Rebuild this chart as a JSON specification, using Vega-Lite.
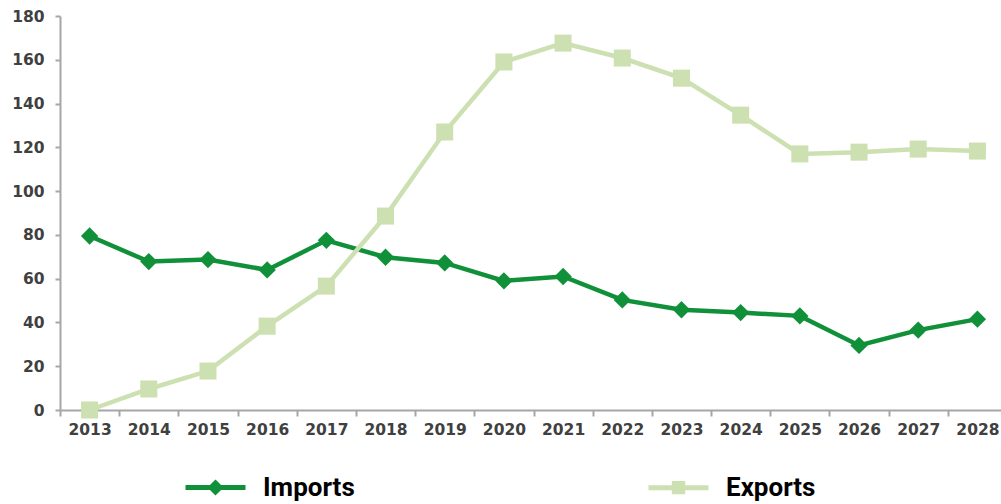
{
  "$schema": "https://vega.github.io/schema/vega-lite/v6.json",
  "autosize": "none",
  "width": 947,
  "height": 394,
  "padding": {"left": 60, "top": 16, "right": 0, "bottom": 94},
  "background": "white",
  "config": {"view": {"stroke": null}},
  "data": {"values": [
    {"year": "2013", "series": "Imports", "value": 79.5},
    {"year": "2014", "series": "Imports", "value": 67.8},
    {"year": "2015", "series": "Imports", "value": 68.7},
    {"year": "2016", "series": "Imports", "value": 64},
    {"year": "2017", "series": "Imports", "value": 77.5},
    {"year": "2018", "series": "Imports", "value": 69.8},
    {"year": "2019", "series": "Imports", "value": 67.2},
    {"year": "2020", "series": "Imports", "value": 59},
    {"year": "2021", "series": "Imports", "value": 61},
    {"year": "2022", "series": "Imports", "value": 50.3},
    {"year": "2023", "series": "Imports", "value": 45.8},
    {"year": "2024", "series": "Imports", "value": 44.5},
    {"year": "2025", "series": "Imports", "value": 43},
    {"year": "2026", "series": "Imports", "value": 29.5},
    {"year": "2027", "series": "Imports", "value": 36.5},
    {"year": "2028", "series": "Imports", "value": 41.5},
    {"year": "2013", "series": "Exports", "value": 0},
    {"year": "2014", "series": "Exports", "value": 9.6},
    {"year": "2015", "series": "Exports", "value": 17.8},
    {"year": "2016", "series": "Exports", "value": 38.3},
    {"year": "2017", "series": "Exports", "value": 56.6},
    {"year": "2018", "series": "Exports", "value": 88.6},
    {"year": "2019", "series": "Exports", "value": 127},
    {"year": "2020", "series": "Exports", "value": 159},
    {"year": "2021", "series": "Exports", "value": 167.6},
    {"year": "2022", "series": "Exports", "value": 160.8},
    {"year": "2023", "series": "Exports", "value": 151.6},
    {"year": "2024", "series": "Exports", "value": 134.7},
    {"year": "2025", "series": "Exports", "value": 117},
    {"year": "2026", "series": "Exports", "value": 117.8},
    {"year": "2027", "series": "Exports", "value": 119.2},
    {"year": "2028", "series": "Exports", "value": 118.3}
  ]},
  "encoding": {
    "x": {"field": "year", "type": "ordinal", "bandPosition": 0.5,
      "scale": {"type": "band", "paddingInner": 0, "paddingOuter": 0},
      "axis": {"title": null, "labelAngle": 0, "tickBand": "extent", "domainColor": "#a6a6a6", "domainWidth": 2,
        "tickColor": "#a6a6a6", "tickWidth": 2, "tickSize": 6, "labelPadding": 6,
        "labelFont": "DejaVu Sans", "labelFontWeight": "bold", "labelFontSize": 15.5, "labelColor": "#404040"}},
    "y": {"field": "value", "type": "quantitative",
      "scale": {"domain": [0, 180], "nice": false},
      "axis": {"title": null, "values": [0,20,40,60,80,100,120,140,160,180], "grid": false,
        "domainColor": "#a6a6a6", "domainWidth": 2, "tickColor": "#a6a6a6", "tickWidth": 2, "tickSize": 5,
        "labelPadding": 11, "labelFont": "DejaVu Sans", "labelFontWeight": "bold", "labelFontSize": 15.5, "labelColor": "#404040"}},
    "color": {"field": "series", "type": "nominal",
      "scale": {"domain": ["Imports", "Exports"], "range": ["#11903a", "#cde0b1"]},
      "legend": {"title": null, "orient": "none", "legendX": 123, "legendY": 439, "direction": "horizontal", "columns": 2,
        "columnPadding": 283, "padding": 0, "symbolSize": 3600, "symbolStrokeWidth": 5, "labelOffset": 15,
        "symbolType": "M-1,0L1,0M0,-0.15L0.15,0L0,0.15L-0.15,0Z",
        "labelFont": "Roboto", "labelFontWeight": "bold", "labelFontSize": 26, "labelColor": "#000000",
        "encode": {"symbols": {"update": {
          "shape": {"signal": "datum.value === 'Imports' ? 'M-1,0L1,0M0,-0.15L0.15,0L0,0.15L-0.15,0Z' : 'M-1,0L1,0M-0.14,-0.14L0.14,-0.14L0.14,0.14L-0.14,0.14Z'"},
          "fill": {"scale": "color", "field": "value"},
          "stroke": {"scale": "color", "field": "value"},
          "opacity": {"value": 1}
        }}}}}
  },
  "layer": [
    {"mark": {"type": "line", "strokeWidth": 4.5}},
    {"transform": [{"filter": "datum.series === 'Imports'"}],
      "mark": {"type": "point", "filled": true, "opacity": 1, "shape": "diamond", "size": 300}},
    {"transform": [{"filter": "datum.series === 'Exports'"}],
      "mark": {"type": "point", "filled": true, "opacity": 1, "shape": "square", "size": 290}}
  ]
}
